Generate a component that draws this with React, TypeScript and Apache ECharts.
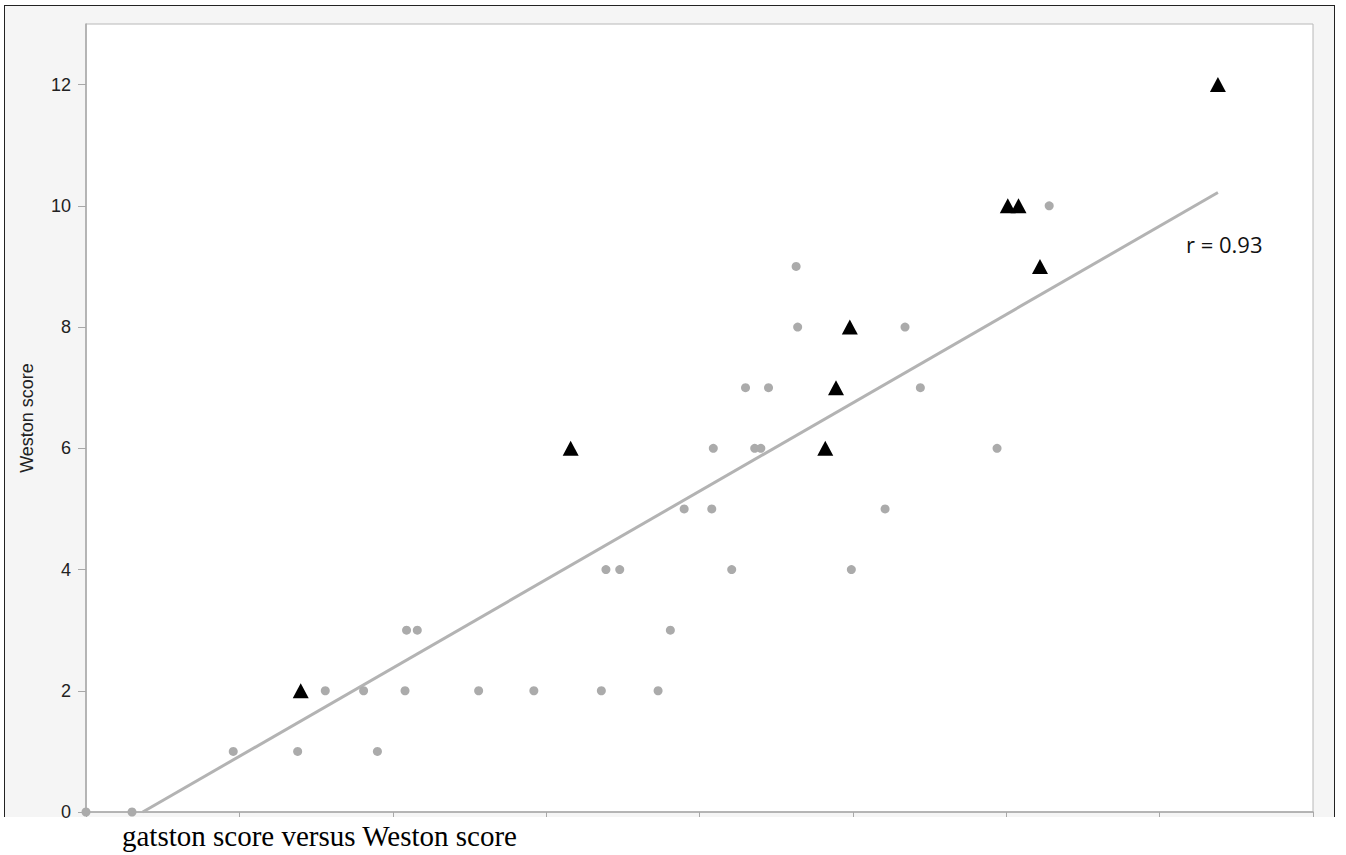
import React, { useEffect, useRef } from "react";
import * as echarts from "echarts";

// Gatston score (x, in axis units) and Weston score (y)
const dotX = [0, 0.3, 0.96, 1.38, 1.56, 1.81, 1.9, 2.08, 2.09, 2.16, 2.56, 2.92, 3.36, 3.39, 3.48, 3.73, 3.81, 3.9, 4.08, 4.09, 4.21, 4.3, 4.36, 4.4, 4.45, 4.63, 4.64, 4.99, 5.21, 5.34, 5.44, 5.94, 6.28];
const dotY = [0, 0, 1, 1, 2, 2, 1, 2, 3, 3, 2, 2, 2, 4, 4, 2, 3, 5, 5, 6, 4, 7, 6, 6, 7, 9, 8, 4, 5, 8, 7, 6, 10];
const triX = [1.4, 3.16, 4.82, 4.89, 4.98, 6.01, 6.08, 6.22, 7.38];
const triY = [2, 6, 6, 7, 8, 10, 10, 9, 12];
const fitX = [0.37, 7.38];
const fitY = [0, 10.22];
const yTicks = [0, 2, 4, 6, 8, 10, 12];
const rLabel = "r = 0.93";
const yName = "Weston score";
const caption = "gatston score versus Weston score";

export default function App() {
  const ref = useRef<HTMLDivElement>(null);
  useEffect(() => {
    if (!ref.current) return;
    const chart = echarts.init(ref.current, undefined, { renderer: "svg" });
    const option: any = {
      animation: false,
      backgroundColor: "transparent",
      grid: {
        left: 86,
        top: 24,
        width: 1227,
        height: 788,
        show: true,
        backgroundColor: "#ffffff",
        borderColor: "#b8b8b8",
        borderWidth: 1,
      },
      xAxis: {
        type: "value",
        min: 0,
        max: 8,
        interval: 1,
        axisLine: { show: true, lineStyle: { color: "#a8a8a8", width: 1.5 } },
        axisTick: { show: true, length: 5, lineStyle: { color: "#a8a8a8" } },
        axisLabel: { show: false },
        splitLine: { show: false },
      },
      yAxis: {
        type: "value",
        min: 0,
        max: 13,
        interval: 2,
        name: yName,
        nameLocation: "middle",
        nameRotate: 90,
        nameGap: 50,
        nameTextStyle: { fontSize: 18, color: "#222", fontFamily: "Liberation Sans, Arial, sans-serif" },
        axisLine: { show: true, lineStyle: { color: "#a8a8a8", width: 1.5 } },
        axisTick: { show: true, length: 8, customValues: yTicks, lineStyle: { color: "#a8a8a8" } },
        axisLabel: {
          customValues: yTicks,
          margin: 15,
          fontSize: 18,
          color: "#222",
          fontFamily: "Liberation Sans, Arial, sans-serif",
        },
        splitLine: { show: false },
      },
      series: [
        {
          type: "line",
          data: fitX.map((x, i) => [x, fitY[i]]),
          symbol: "none",
          lineStyle: { color: "#b3b3b3", width: 3 },
          z: 1,
          silent: true,
        },
        {
          type: "scatter",
          data: dotX.map((x, i) => [x, dotY[i]]),
          symbol: "circle",
          symbolSize: 9,
          itemStyle: { color: "#ababab", opacity: 1 },
          z: 2,
        },
        {
          type: "scatter",
          data: triX.map((x, i) => [x, triY[i]]),
          symbol: "triangle",
          symbolSize: [16, 15],
          itemStyle: { color: "#000000", opacity: 1 },
          z: 3,
        },
      ],
      graphic: [
        {
          type: "text",
          x: 1186,
          y: 244,
          style: {
            text: rLabel,
            fontSize: 22,
            fill: "#111",
            fontFamily: "Open Sans, Noto Sans, sans-serif",
            verticalAlign: "middle",
            align: "left",
          },
          z: 10,
        },
        {
          type: "text",
          x: 122,
          y: 836,
          style: {
            text: caption,
            fontSize: 29,
            fill: "#000",
            fontFamily: "Liberation Serif, Times New Roman, serif",
            verticalAlign: "middle",
            align: "left",
          },
          z: 10,
        },
      ],
    };
    chart.setOption(option);
    return () => chart.dispose();
  }, []);

  return (
    <div style={{ position: "absolute", left: 0, top: 0, width: 1346, height: 855, background: "#fff", overflow: "hidden" }}>
      <div
        style={{
          position: "absolute",
          left: 4,
          top: 5,
          width: 1331,
          height: 812,
          background: "#f5f5f5",
          borderLeft: "1.5px solid #222",
          borderTop: "1.5px solid #222",
          borderRight: "1.5px solid #222",
          boxSizing: "border-box",
        }}
      />
      <div ref={ref} style={{ position: "absolute", left: 0, top: 0, width: 1346, height: 855 }} />
    </div>
  );
}
